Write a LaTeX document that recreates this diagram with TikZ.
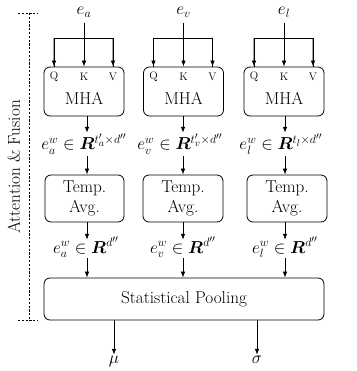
\documentclass[tikz,border=0pt]{standalone}
\usepackage[no-math]{fontspec}
\usepackage{bm}
\usetikzlibrary{arrows.meta}
\begin{document}
\begin{tikzpicture}[x=1pt,y=-1pt,
  every node/.style={font=\fontsize{17.2}{20}\selectfont, inner sep=0pt},
  mth/.style={font=\fontsize{17.28}{20}\selectfont},
  box/.style={draw, rounded corners=6pt, line width=0.8pt, minimum width=80pt, align=center},
  arr/.style={-{Latex[length=6pt,width=4.5pt]}, line width=0.75pt},
  ln/.style={line width=0.75pt},
  lbl/.style={font=\fontsize{11}{12}\selectfont},
  fml/.style={mth, text height=17pt, text depth=6pt},
  fmlb/.style={mth, text height=13pt, text depth=5pt},
  dsh/.style={line width=0.6pt, dash pattern=on 2.2pt off 1.6pt}]

\useasboundingbox (0,0) rectangle (356,371);

% inputs
\node[mth, text height=9pt, text depth=8pt] (ea) at (84,14) {$e_a$};
\node[mth, text height=9pt, text depth=8pt] (ev) at (183.5,14) {$e_v$};
\node[mth, text height=9pt, text depth=8pt] (el) at (284,14) {$e_l$};

% MHA boxes
\node[box, minimum height=49pt] (m1) at (84,91.5) {};
\node[box, minimum height=49pt] (m2) at (183.5,91.5) {};
\node[box, minimum height=49pt] (m3) at (284,91.5) {};
\node (mt1) at (84,98) {MHA};
\node (mt2) at (183.5,98) {MHA};
\node (mt3) at (284,98) {MHA};

% Q K V labels
\foreach \c/\n in {84/1,183.5/2,284/3}{
  \node[lbl] (q\n) at (\c-30,77) {Q};
  \node[lbl] (k\n) at (\c,77) {K};
  \node[lbl] (v\n) at (\c+29,77) {V};
  \coordinate (b\n) at (\c,38);
}

\foreach \i/\n in {ea/1,ev/2,el/3}{
  \draw[arr] (\i.south) -- (m\n.north);
  \draw[ln] (b\n) -| (q\n |- m\n.north);
  \draw[ln] (b\n) -| (v\n |- m\n.north);
  \draw[arr] ([xshift=-0.1pt]b\n -| q\n) -- (q\n |- m\n.north);
  \draw[arr] ([xshift=0.1pt]b\n -| v\n) -- (v\n |- m\n.north);
}

% column coordinates
\coordinate (c1) at (87,0);
\coordinate (c2) at (183,0);
\coordinate (c3) at (285,0);

% first formulas
\node[fml] (f1) at (84,144.5) {$e_a^w \in \bm{R}^{t'_a\times d''}$};
\node[fml] (f2) at (180,144.5) {$e_v^w \in \bm{R}^{t'_v\times d''}$};
\node[fml] (f3) at (281,144.5) {$e_l^w \in \bm{R}^{t_l\times d''}$};

% Temp. Avg. boxes
\node[box, minimum height=47pt, minimum width=79pt] (t1) at (84.5,198.5) {Temp.\\Avg.};
\node[box, minimum height=47pt] (t2) at (183,198.5) {Temp.\\Avg.};
\node[box, minimum height=47pt] (t3) at (287,198.5) {Temp.\\Avg.};

% second formulas
\node[fmlb] (g1) at (86,249) {$e_a^w \in \bm{R}^{d''}$};
\node[fmlb] (g2) at (183,249) {$e_v^w \in \bm{R}^{d''}$};
\node[fmlb] (g3) at (285,249) {$e_l^w \in \bm{R}^{d''}$};

% pooling
\node[box, minimum width=280pt, minimum height=42pt] (p) at (184,299) {Statistical Pooling};

\foreach \n in {1,2,3}{
  \draw[arr] (m\n.south -| c\n) -- (f\n.north -| c\n);
  \draw[arr] (f\n.south -| c\n) -- (t\n.north -| c\n);
  \draw[arr] (t\n.south -| c\n) -- (g\n.north -| c\n);
  \draw[arr] (g\n.south -| c\n) -- (p.north -| c\n);
}

% outputs
\node[mth, text height=8pt, text depth=4pt] (mu) at (114,361) {$\mu$};
\node[mth, text height=8pt, text depth=4pt] (sg) at (257,361) {$\sigma$};
\draw[arr] (p.south -| mu) -- (mu.north);
\draw[arr] (p.south -| sg) -- (sg.north);

% bracket
\coordinate (d1) at (29,13);
\coordinate (d2) at (29,320);
\draw[dsh] ([xshift=-11pt]d1) -- ([xshift=9pt]d1);
\draw[dsh] ([xshift=-11pt]d2) -- ([xshift=9pt]d2);
\draw[dsh] (d1) -- (d2);
\node[rotate=90] (af) at (14,167) {Attention \& Fusion};
\end{tikzpicture}
\end{document}
